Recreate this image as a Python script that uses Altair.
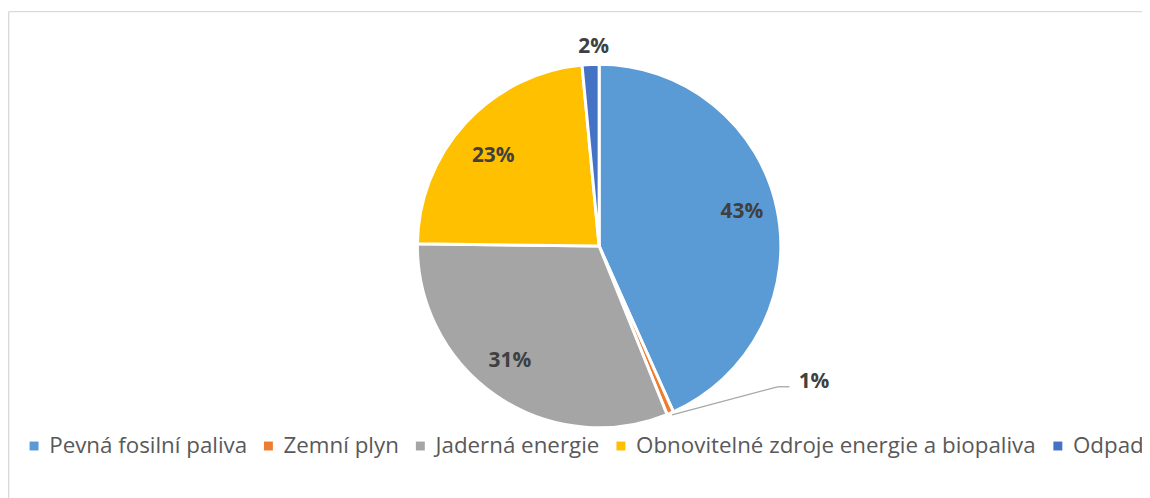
import altair as alt
import pandas as pd

categories = ["Pevná fosilní paliva", "Zemní plyn", "Jaderná energie",
              "Obnovitelné zdroje energie a biopaliva", "Odpady"]
values = [43.3, 0.6, 31.3, 23.3, 1.5]
labels = ["43%", "1%", "31%", "23%", "2%"]
colors = ["#5B9BD5", "#ED7D31", "#A5A5A5", "#FFC000", "#4472C4"]

df = pd.DataFrame({
    "kategorie": categories,
    "hodnota": values,
    "stitek": labels,
    "poradi": list(range(len(categories))),
})

CX, CY = 591.3, 234
theta_scale = alt.Scale(domain=[0, 100])

base = alt.Chart(df).transform_stack(
    stack="hodnota", groupby=[], as_=["t0", "t1"],
    sort=[alt.SortField("poradi", order="ascending")],
).transform_calculate(mid="(datum.t0 + datum.t1) / 2").encode(
    x=alt.value(CX),
    y=alt.value(CY),
)

pie = base.mark_arc(outerRadius=183, stroke="white", strokeWidth=3).encode(
    theta=alt.Theta("t0:Q", scale=theta_scale),
    theta2="t1:Q",
    color=alt.Color(
        "kategorie:N",
        scale=alt.Scale(domain=categories, range=colors),
        sort=categories,
        legend=alt.Legend(
            title=None, orient="none", direction="horizontal",
            legendX=11, legendY=424, columns=5, padding=0,
            symbolType="square", symbolSize=81, symbolStrokeWidth=0,
            labelFontSize=22.5, labelColor="#595959", labelFont="Open Sans",
            labelOffset=4, columnPadding=10, labelLimit=600,
        ),
    ),
)

txt_style = dict(font="Open Sans", fontWeight="bold", fontSize=21, color="#404040",
                 align="center", baseline="middle")

def label_layer(name, **kw):
    return base.mark_text(**txt_style, **kw).encode(
        theta=alt.Theta("mid:Q", scale=theta_scale),
        text="stitek:N",
    ).transform_filter(alt.FieldEqualPredicate(field="kategorie", equal=name))

lab_fos = label_layer(categories[0], radius=145, dx=2, dy=-4)
lab_gas = label_layer(categories[1], radius=190, dx=142, dy=-38)
lab_jad = label_layer(categories[2], radius=145, dx=-8, dy=-4)
lab_obn = label_layer(categories[3], radius=145, dx=0, dy=8)
lab_odp = label_layer(categories[4], radius=201, dx=4, dy=0)

one = alt.Chart(df.head(1))
leader1 = one.mark_rule(color="#A6A6A6", strokeWidth=1.3).encode(
    x=alt.value(664.7), y=alt.value(404), x2=alt.value(771), y2=alt.value(375.7))
leader2 = one.mark_rule(color="#A6A6A6", strokeWidth=1.3).encode(
    x=alt.value(771), y=alt.value(375.7), x2=alt.value(783), y2=alt.value(375.7))

frame_left = one.mark_rule(color="#D9D9D9", strokeWidth=1.3).encode(
    x=alt.value(-3.3), y=alt.value(-2), x2=alt.value(-3.3), y2=alt.value(600))
frame_top = one.mark_rule(color="#D9D9D9", strokeWidth=1.3).encode(
    x=alt.value(-3.3), y=alt.value(-2), x2=alt.value(1300), y2=alt.value(-2))

chart = alt.layer(frame_left, frame_top, pie, lab_fos, lab_gas, lab_jad, lab_obn, lab_odp,
                  leader1, leader2).properties(
    width=1138, height=486,
    padding={"left": 4, "top": 4, "right": 0, "bottom": 0},
    autosize=alt.AutoSizeParams(type="none"),
    background="white",
).configure_view(stroke=None)

chart.save("out.html", embed_options={"renderer": "svg", "actions": False})
